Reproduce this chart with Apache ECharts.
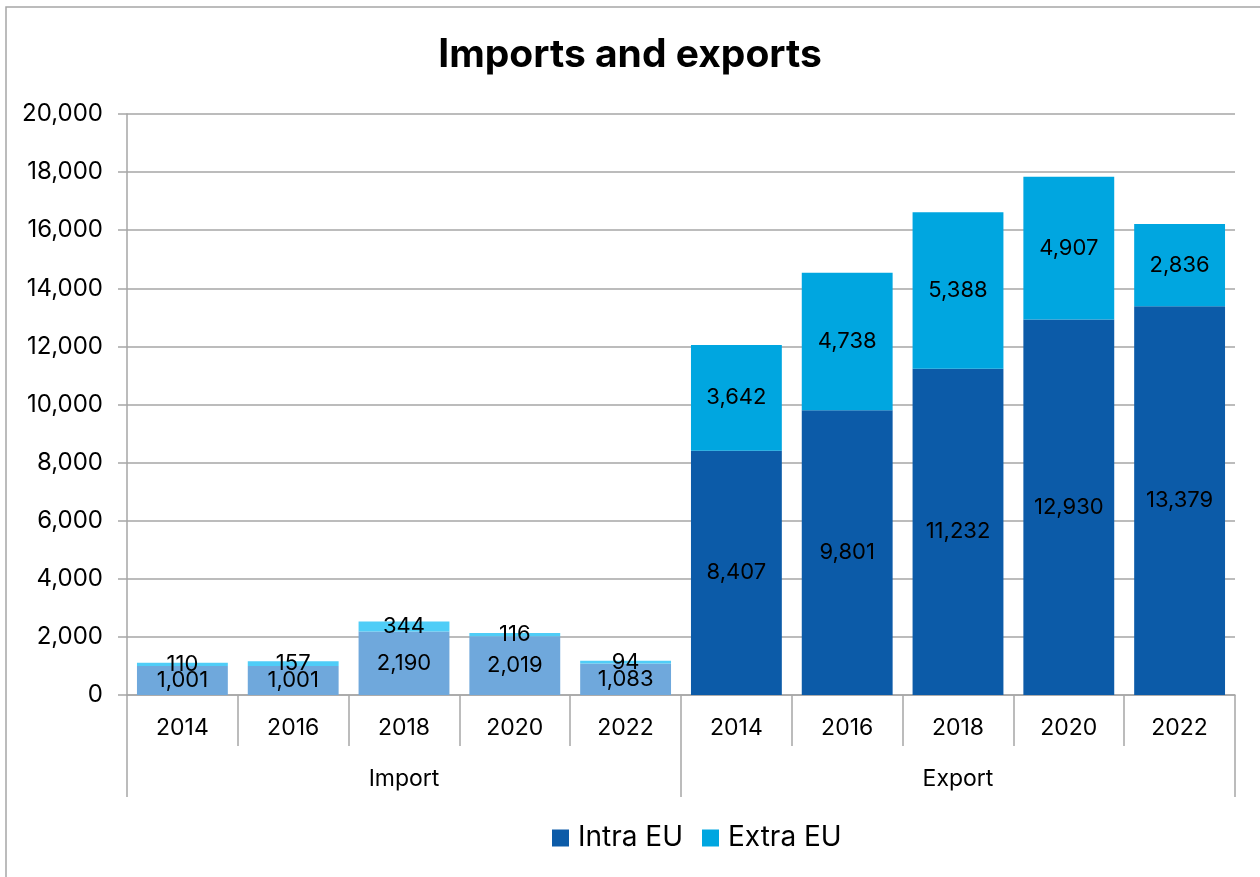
<!DOCTYPE html>
<html>
<head>
<meta charset="utf-8">
<script src="https://cdn.jsdelivr.net/npm/echarts@6/dist/echarts.min.js"></script>
<style>
  html, body { margin: 0; padding: 0; background: #fff; }
  #chart { width: 1260px; height: 877px; }
</style>
</head>
<body>
<div id="chart"></div>
<script>
// 数据
const years = ['2014', '2016', '2018', '2020', '2022'];
const groups = ['Import', 'Export'];
const importIntra = [1001, 1001, 2190, 2019, 1083];
const importExtra = [110, 157, 344, 116, 94];
const exportIntra = [8407, 9801, 11232, 12930, 13379];
const exportExtra = [3642, 4738, 5388, 4907, 2836];

// 颜色
const COLOR_INTRA = '#0C5BA8';
const COLOR_EXTRA = '#00A6E0';
const COLOR_IMPORT_INTRA = '#6FA8DC';
const COLOR_IMPORT_EXTRA = '#4FCDF7';

const FONT = 'Inter, "Noto Sans", sans-serif';
const chart = echarts.init(document.getElementById('chart'));

const categories = years.concat(years);

function fmt(v) {
    return Number(v).toLocaleString('en-US');
}

function buildData(imp, exp, impColor) {
    const list = [];
    imp.forEach(v => list.push({value: v, itemStyle: {color: impColor}}));
    exp.forEach(v => list.push({value: v}));
    return list;
}

const labelCfg = {
    show: true,
    position: 'inside',
    color: '#000',
    fontSize: 22,
    fontFamily: FONT,
    formatter: p => fmt(p.value)
};

chart.setOption({
    animation: false,
    title: {
        text: 'Imports and exports',
        left: 'center',
        top: 31,
        textStyle: {
            fontSize: 39,
            fontWeight: 'bold',
            color: '#000',
            fontFamily: FONT
        }
    },
    graphic: [{
        type: 'rect',
        shape: {x: 6, y: 7, width: 1400, height: 1000},
        style: {fill: 'none', stroke: '#A6A6A6', lineWidth: 1.5},
        silent: true
    }],
    legend: {
        bottom: 20,
        left: 547,
        itemWidth: 17,
        itemHeight: 17,
        itemGap: 19,
        icon: 'rect',
        textStyle: {fontSize: 28, color: '#000', fontFamily: FONT, padding: [0, 0, 0, 4]},
        data: [
            {name: 'Intra EU', itemStyle: {color: COLOR_INTRA}},
            {name: 'Extra EU', itemStyle: {color: COLOR_EXTRA}}
        ]
    },
    grid: {left: 127, right: 25, top: 114, bottom: 182},
    xAxis: [
        {
            type: 'category',
            data: categories,
            position: 'bottom',
            axisLine: {show: true, lineStyle: {color: '#A6A6A6', width: 1.5}},
            axisTick: {show: true, length: 51, interval: 0, lineStyle: {color: '#A6A6A6', width: 1.5}},
            axisLabel: {fontSize: 23, color: '#000', fontFamily: FONT, margin: 22, interval: 0}
        },
        {
            type: 'category',
            data: groups,
            position: 'bottom',
            offset: 51,
            axisLine: {show: false},
            axisTick: {show: true, length: 51, interval: 0, lineStyle: {color: '#A6A6A6', width: 1.5}},
            axisLabel: {fontSize: 23, color: '#000', fontFamily: FONT, margin: 22}
        }
    ],
    yAxis: {
        type: 'value',
        min: 0,
        max: 20000,
        interval: 2000,
        axisLine: {show: true, lineStyle: {color: '#A6A6A6', width: 1.5}},
        axisTick: {show: true, length: 9, lineStyle: {color: '#A6A6A6', width: 1.5}},
        splitLine: {lineStyle: {color: '#A6A6A6', width: 1.5}},
        axisLabel: {fontSize: 24, color: '#000', fontFamily: FONT, margin: 24, formatter: v => fmt(v)}
    },
    series: [
        {
            name: 'Intra EU',
            type: 'bar',
            stack: 'total',
            barCategoryGap: '18%',
            itemStyle: {color: COLOR_INTRA},
            label: labelCfg,
            data: buildData(importIntra, exportIntra, COLOR_IMPORT_INTRA)
        },
        {
            name: 'Extra EU',
            type: 'bar',
            stack: 'total',
            barCategoryGap: '18%',
            itemStyle: {color: COLOR_EXTRA},
            label: labelCfg,
            data: buildData(importExtra, exportExtra, COLOR_IMPORT_EXTRA)
        }
    ]
});
</script>
</body>
</html>
